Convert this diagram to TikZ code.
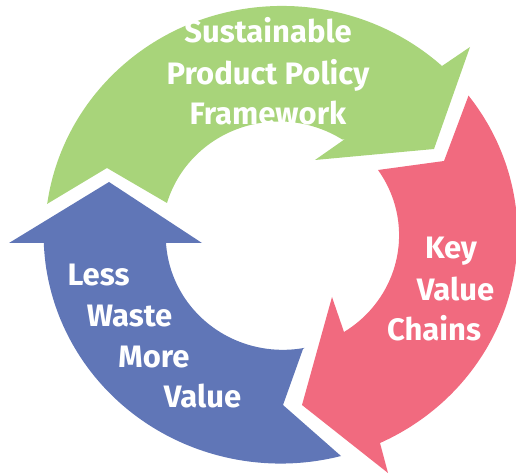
\documentclass[tikz,border=0pt]{standalone}
\usepackage{fontspec}
\setsansfont{Fira Sans}
\definecolor{policygreen}{RGB}{168,212,122}
\definecolor{chainred}{RGB}{241,106,127}
\definecolor{wasteblue}{RGB}{96,118,183}

\begin{document}
\begin{tikzpicture}[x=1pt, y=1pt,
    greenarrow/.style={fill=policygreen},
    redarrow/.style={fill=chainred},
    bluearrow/.style={fill=wasteblue},
    cycletext/.style={font=\sffamily\bfseries\fontsize{31}{36}\selectfont, text=white, inner sep=0pt, anchor=base}
]
\useasboundingbox (0,0) rectangle (516,474);

% Define arrows
\path[greenarrow] (47,270) -- (107,306) -- (167,271)
    arc[start angle=163.45, end angle=57.27, x radius=117, y radius=114]
    -- (345,335) -- (315,314) -- (434,325) -- (470,427) -- (442,408)
    arc[start angle=47.54, end angle=171.95, x radius=237, y radius=229] -- cycle;
\path[redarrow] (468,377) -- (444,313) -- (378,304)
    arc[start angle=34.93, end angle=-57.4, x radius=117, y radius=114]
    -- (344,142) -- (332,177) -- (302,69) -- (388,1) -- (380,31)
    arc[start angle=-65.2, end angle=37.57, x radius=237, y radius=229] -- cycle;
\path[bluearrow] (303,125) -- (283,69) -- (341,18)
    arc[start angle=-75.24, end angle=-178.23, x radius=237, y radius=229]
    -- (46,231) -- (9,231) -- (109,292) -- (202,231) -- (166,231)
    arc[start angle=-176.4, end angle=-79.25, x radius=117, y radius=114] -- cycle;

% Define labels
\node[cycletext] (spp1) at (268,431) {Sustainable};
\node[cycletext] (spp2) at (268,389) {Product Policy};
\node[cycletext] (spp3) at (268,349) {Framework};
\node[cycletext] (kvc1) at (451,215) {Key};
\node[cycletext] (kvc2) at (455.5,174) {Value};
\node[cycletext] (kvc3) at (434,134) {Chains};
\node[cycletext] (lwmv1) at (98.5,188) {Less};
\node[cycletext] (lwmv2) at (129.5,148) {Waste};
\node[cycletext] (lwmv3) at (154,107) {More};
\node[cycletext] (lwmv4) at (202.5,67) {Value};

\end{tikzpicture}
\end{document}
